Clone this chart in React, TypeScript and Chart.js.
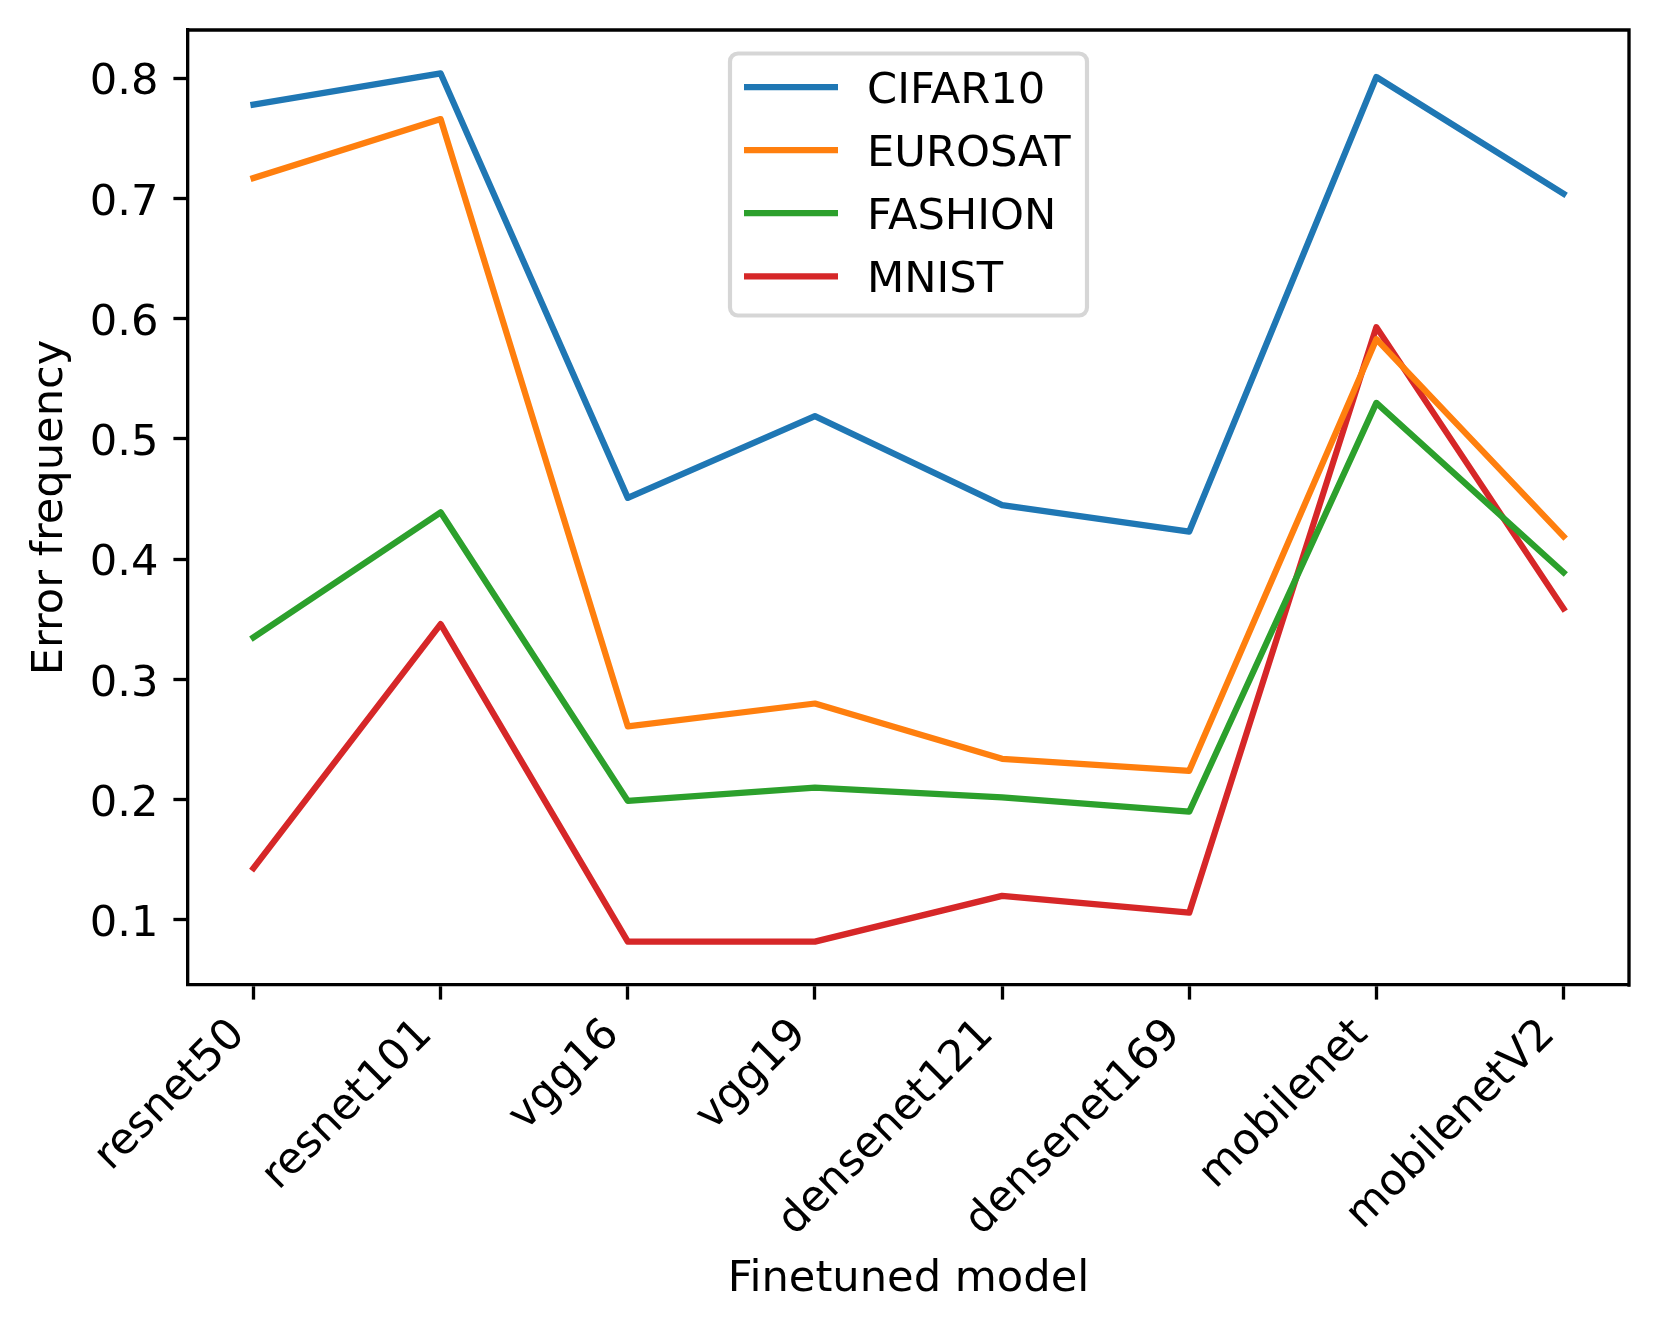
import React, { useEffect, useRef } from "react";
import { Chart, registerables } from "chart.js";

Chart.register(...registerables);

// ---- data ----
const categories = [
  "resnet50",
  "resnet101",
  "vgg16",
  "vgg19",
  "densenet121",
  "densenet169",
  "mobilenet",
  "mobilenetV2",
];
const cifar10 = [0.778, 0.804, 0.451, 0.519, 0.445, 0.423, 0.801, 0.704];
const eurosat = [0.717, 0.766, 0.261, 0.28, 0.234, 0.224, 0.583, 0.419];
const fashion = [0.335, 0.439, 0.199, 0.21, 0.202, 0.19, 0.53, 0.389];
const mnist = [0.143, 0.346, 0.082, 0.082, 0.12, 0.106, 0.593, 0.359];
const seriesLabels = ["CIFAR10", "EUROSAT", "FASHION", "MNIST"];
const seriesValues = [cifar10, eurosat, fashion, mnist];
const yTickValues = [0.1, 0.2, 0.3, 0.4, 0.5, 0.6, 0.7, 0.8];
const xTitle = "Finetuned model";
const yTitle = "Error frequency";

// ---- style ----
const seriesColors = ["#1f77b4", "#ff7f0e", "#2ca02c", "#d62728"];
const FONT = "'DejaVu Sans', 'Liberation Sans', sans-serif";
const FS = 43.2;
const LW = 6.25;
const SPINE = 3.33;
const TICK_LEN = 14.6;
const W = 1660;
const H = 1334;

// matplotlib-like 5% margins
const allVals = seriesValues.flat();
const yLo = Math.min(...allVals);
const yHi = Math.max(...allVals);
const yMin = yLo - 0.05 * (yHi - yLo);
const yMax = yHi + 0.05 * (yHi - yLo);
const xMin = -0.05 * (categories.length - 1);
const xMax = categories.length - 1 + 0.05 * (categories.length - 1);

const framePlugin = {
  id: "frameAndLegend",
  afterDraw(chart: any) {
    const { ctx, chartArea: a } = chart;
    ctx.save();
    // top & right spines
    ctx.strokeStyle = "#000";
    ctx.lineWidth = SPINE;
    ctx.lineCap = "square";
    ctx.beginPath();
    ctx.moveTo(a.left, a.top);
    ctx.lineTo(a.right, a.top);
    ctx.lineTo(a.right, a.bottom);
    ctx.stroke();

    // legend (upper center)
    const boxW = 357;
    const boxH = 262;
    const bx = (a.left + a.right) / 2 - boxW / 2;
    const by = a.top + 23.5;
    ctx.beginPath();
    if (ctx.roundRect) ctx.roundRect(bx, by, boxW, boxH, 8);
    else ctx.rect(bx, by, boxW, boxH);
    ctx.fillStyle = "rgba(255,255,255,0.8)";
    ctx.fill();
    ctx.lineWidth = 4.17;
    ctx.strokeStyle = "rgba(204,204,204,0.8)";
    ctx.stroke();

    ctx.font = `${FS}px ${FONT}`;
    ctx.textAlign = "left";
    ctx.textBaseline = "alphabetic";
    chart.data.datasets.forEach((ds: any, i: number) => {
      const cy = by + 33.5 + i * 63.1;
      ctx.strokeStyle = ds.borderColor;
      ctx.lineWidth = LW;
      ctx.lineCap = "butt";
      ctx.beginPath();
      ctx.moveTo(bx + 14, cy);
      ctx.lineTo(bx + 108, cy);
      ctx.stroke();
      ctx.fillStyle = "#000";
      ctx.fillText(ds.label, bx + 137, cy + 15.5);
    });
    ctx.restore();
  },
};

export default function App() {
  const ref = useRef<HTMLCanvasElement | null>(null);

  useEffect(() => {
    document.body.style.margin = "0";
    const canvas = ref.current;
    if (!canvas) return;
    const chart = new Chart(canvas, {
      type: "line",
      data: {
        datasets: seriesValues.map((vals, k) => ({
          label: seriesLabels[k],
          data: vals.map((v, i) => ({ x: i, y: v })),
          borderColor: seriesColors[k],
          backgroundColor: seriesColors[k],
          borderWidth: LW,
          pointRadius: 0,
          pointHoverRadius: 0,
          tension: 0,
          fill: false,
          borderJoinStyle: "round",
          borderCapStyle: "square",
        })),
      },
      options: {
        animation: false,
        responsive: false,
        devicePixelRatio: 1,
        events: [],
        layout: { padding: { left: 0, top: 30, right: 31, bottom: 0 } },
        plugins: {
          legend: { display: false },
          tooltip: { enabled: false },
        },
        scales: {
          x: {
            type: "linear",
            min: xMin,
            max: xMax,
            afterBuildTicks: (s: any) => {
              s.ticks = categories.map((_, i) => ({ value: i }));
            },
            afterFit: (s: any) => {
              s.height = 349;
              s.paddingLeft = 0;
              s.paddingRight = 0;
            },
            grid: {
              drawOnChartArea: false,
              drawTicks: true,
              tickLength: TICK_LEN,
              tickWidth: SPINE,
              tickColor: "#000",
            },
            border: { display: true, color: "#000", width: SPINE },
            ticks: {
              autoSkip: false,
              maxRotation: 45,
              minRotation: 45,
              padding: 10,
              labelOffset: -15,
              color: "#000",
              font: { size: FS, family: FONT },
              callback: (v: any) => categories[Math.round(Number(v))] ?? "",
            },
            title: {
              display: true,
              text: xTitle,
              color: "#000",
              font: { size: FS, family: FONT },
              padding: { top: 0, bottom: 28 },
            },
          },
          y: {
            type: "linear",
            min: yMin,
            max: yMax,
            afterBuildTicks: (s: any) => {
              s.ticks = yTickValues.map((v) => ({ value: v }));
            },
            afterFit: (s: any) => {
              s.width = 188;
              s.paddingTop = 0;
              s.paddingBottom = 0;
            },
            grid: {
              drawOnChartArea: false,
              drawTicks: true,
              tickLength: TICK_LEN,
              tickWidth: SPINE,
              tickColor: "#000",
            },
            border: { display: true, color: "#000", width: SPINE },
            ticks: {
              padding: 15,
              labelOffset: 5,
              color: "#000",
              font: { size: FS, family: FONT },
              callback: (v: any) => Number(v).toFixed(1),
            },
            title: {
              display: true,
              text: yTitle,
              color: "#000",
              font: { size: FS, family: FONT },
              padding: { top: 25, bottom: 0 },
            },
          },
        },
      },
      plugins: [framePlugin],
    } as any);
    return () => chart.destroy();
  }, []);

  return (
    <div style={{ position: "absolute", left: 0, top: 0, width: W, height: H, background: "#fff" }}>
      <canvas ref={ref} width={W} height={H} style={{ display: "block", width: W, height: H }} />
    </div>
  );
}
